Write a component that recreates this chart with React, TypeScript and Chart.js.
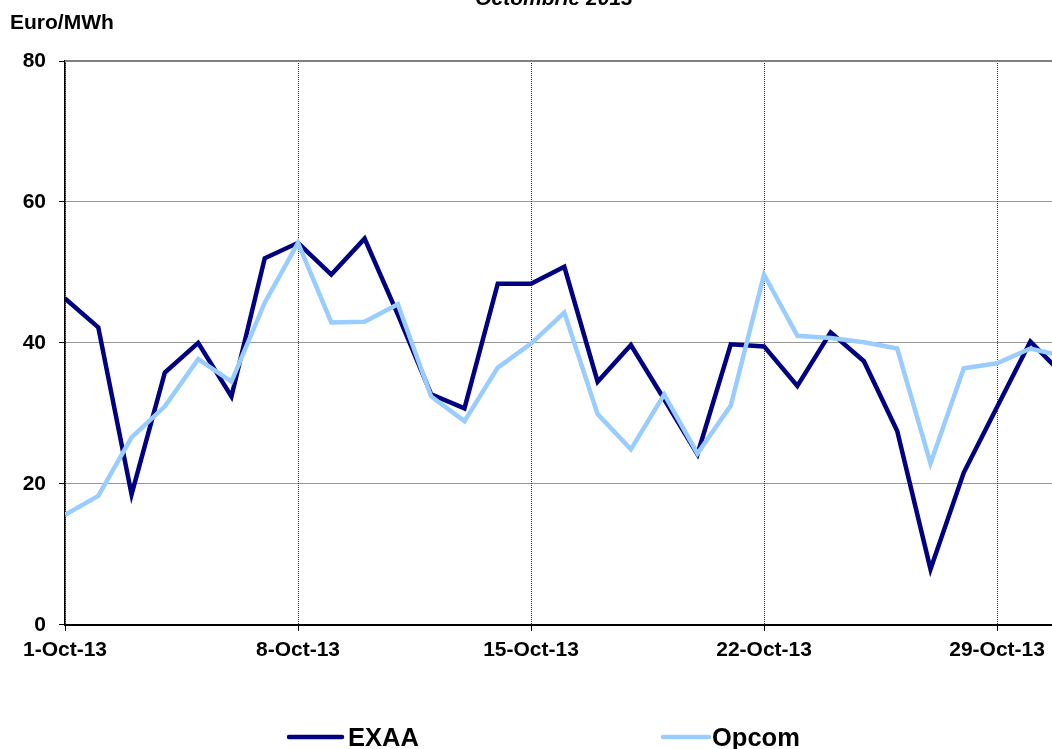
import React, { useEffect, useRef } from "react";
import { Chart, registerables } from "chart.js";

Chart.register(...registerables);

const chartTitle = "Octombrie 2013";
const yAxisTitle = "Euro/MWh";
const seriesNames = ["EXAA", "Opcom"];

const days = [1, 2, 3, 4, 5, 6, 7, 8, 9, 10, 11, 12, 13, 14, 15, 16, 17, 18, 19, 20, 21, 22, 23, 24, 25, 26, 27, 28, 29, 30, 31];
const exaa = [46.3, 42.2, 18.5, 35.8, 40.0, 32.4, 52.0, 54.2, 49.7, 54.8, 44.0, 32.7, 30.7, 48.4, 48.4, 50.8, 34.5, 39.7, 32.0, 24.2, 39.8, 39.5, 33.9, 41.5, 37.4, 27.5, 7.9, 21.6, 30.9, 40.2, 35.4];
const opcom = [15.6, 18.3, 26.6, 31.0, 37.7, 34.5, 45.7, 54.2, 42.9, 43.0, 45.5, 32.4, 28.9, 36.5, 39.9, 44.3, 29.9, 24.9, 32.7, 24.3, 31.1, 49.7, 41.0, 40.7, 40.1, 39.2, 22.9, 36.4, 37.1, 39.2, 38.1];

const xTickDays = [1, 8, 15, 22, 29];
const xTickLabels = ["1-Oct-13", "8-Oct-13", "15-Oct-13", "22-Oct-13", "29-Oct-13"];
const yTicks = [0, 20, 40, 60, 80];

const colors = ["#000080", "#99CCFF"];
const FONT = "'Liberation Sans', Arial, sans-serif";

export default function App() {
  const ref = useRef<HTMLCanvasElement | null>(null);

  useEffect(() => {
    if (!ref.current) return;

    const decor = {
      id: "decor",
      afterDraw(chart: any) {
        const ctx = chart.ctx as CanvasRenderingContext2D;
        const area = chart.chartArea;
        ctx.save();
        // top frame line
        ctx.strokeStyle = "#808080";
        ctx.lineWidth = 2;
        ctx.beginPath();
        ctx.moveTo(area.left, area.top);
        ctx.lineTo(area.right, area.top);
        ctx.stroke();

        ctx.fillStyle = "#000";
        ctx.textBaseline = "alphabetic";
        // title (cut off at top)
        ctx.font = `italic bold 21px ${FONT}`;
        ctx.textAlign = "center";
        ctx.fillText(chartTitle, 554, 5);
        // y axis title
        ctx.font = `bold 21px ${FONT}`;
        ctx.textAlign = "left";
        ctx.fillText(yAxisTitle, 10, 29);

        // legend
        const items = [
          { x1: 289, x2: 342, tx: 348 },
          { x1: 663, x2: 709, tx: 712 },
        ];
        const ly = 737;
        items.forEach((it, i) => {
          ctx.strokeStyle = colors[i];
          ctx.lineWidth = 4.5;
          ctx.lineCap = "round";
          ctx.beginPath();
          ctx.moveTo(it.x1, ly);
          ctx.lineTo(it.x2, ly);
          ctx.stroke();
          ctx.font = `bold 25.5px ${FONT}`;
          ctx.textAlign = "left";
          ctx.textBaseline = "alphabetic";
          ctx.fillStyle = "#000";
          ctx.fillText(seriesNames[i], it.tx, 746);
        });
        ctx.restore();
      },
    };

    const chart = new Chart(ref.current, {
      type: "line",
      data: {
        datasets: [
          {
            label: seriesNames[0],
            data: days.map((d, i) => ({ x: d, y: exaa[i] })),
            borderColor: colors[0],
            backgroundColor: colors[0],
            borderWidth: 4.5,
            pointRadius: 0,
            tension: 0,
            order: 1,
          },
          {
            label: seriesNames[1],
            data: days.map((d, i) => ({ x: d, y: opcom[i] })),
            borderColor: colors[1],
            backgroundColor: colors[1],
            borderWidth: 4.5,
            pointRadius: 0,
            tension: 0,
            order: 0,
          },
        ],
      },
      options: {
        responsive: false,
        animation: false,
        layout: { padding: { top: 61, left: 0, right: 0, bottom: 79 } },
        plugins: {
          legend: { display: false },
          tooltip: { enabled: false },
          title: { display: false },
        },
        scales: {
          x: {
            type: "linear",
            min: 1,
            max: 30.65,
            afterBuildTicks: (scale: any) => {
              scale.ticks = xTickDays.map((v) => ({ value: v }));
            },
            ticks: {
              autoSkip: false,
              maxRotation: 0,
              padding: 7,
              color: "#000",
              font: { family: FONT, size: 21, weight: "bold" },
              callback: (v: any) => {
                const i = xTickDays.indexOf(Number(v));
                return i >= 0 ? xTickLabels[i] : "";
              },
            },
            grid: {
              color: "#303030",
              lineWidth: 1,
              tickLength: 6,
              tickColor: "#000",
              tickWidth: 1,
              tickBorderDash: [],
            },
            border: { display: true, color: "#000", width: 2, dash: [1, 1] },
          },
          y: {
            min: 0,
            max: 80,
            afterBuildTicks: (scale: any) => {
              scale.ticks = yTicks.map((v) => ({ value: v }));
            },
            afterFit: (scale: any) => {
              scale.width = 65;
            },
            ticks: {
              padding: 13,
              color: "#000",
              font: { family: FONT, size: 21, weight: "bold" },
            },
            grid: {
              color: "#303030",
              lineWidth: 1,
              tickLength: 6,
              tickColor: "#000",
              tickWidth: 1,
              tickBorderDash: [],
            },
            border: { display: true, color: "#000", width: 1.5, dash: [1, 1] },
          },
        },
      },
      plugins: [decor],
    } as any);

    return () => chart.destroy();
  }, []);

  return (
    <div style={{ position: "absolute", left: 0, top: 0, width: 1052, height: 749, background: "#fff" }}>
      <canvas ref={ref} width={1052} height={749} style={{ display: "block" }} />
    </div>
  );
}
